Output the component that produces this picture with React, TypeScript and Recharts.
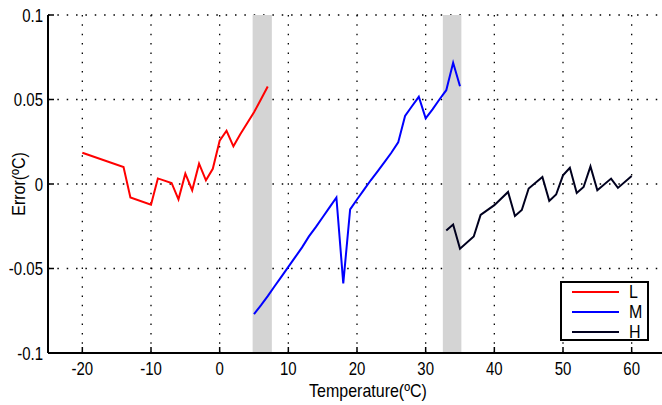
import React from 'react';
import {
  LineChart,
  Line,
  XAxis,
  YAxis,
  CartesianGrid,
  ReferenceArea,
  Legend
} from 'recharts';

const FONT = '"Liberation Sans", Arial, Helvetica, sans-serif';

// series values
const lowTemps = [-20, -14, -13, -10, -9, -7, -6, -5, -4, -3, -2, -1, 0, 1, 2, 3, 4, 5, 6, 7];
const lowErrors = [0.0185, 0.01, -0.008, -0.0123, 0.0033, 0.0006, -0.0091, 0.0061, -0.0037, 0.012,
  0.0022, 0.009, 0.0256, 0.0315, 0.0223, 0.0295, 0.036, 0.0424, 0.05, 0.0577];

const midTemps = [5, 6, 7, 8, 9, 10, 11, 12, 13, 14, 15, 16, 17, 18, 19, 20, 21, 22, 23, 24, 25, 26,
  27, 28, 29, 30, 31, 32, 33, 34, 35];
const midErrors = [-0.077, -0.0718, -0.0663, -0.0605, -0.0548, -0.049, -0.0433, -0.0375, -0.031,
  -0.0255, -0.0197, -0.0138, -0.008, -0.0588, -0.015, -0.0092, -0.0035, 0.0022, 0.0075, 0.0129,
  0.0185, 0.0246, 0.0403, 0.046, 0.0516, 0.0389, 0.0442, 0.05, 0.0555, 0.0717, 0.0578];

const highTemps = [33, 34, 35, 37, 38, 40, 42, 43, 44, 45, 47, 48, 49, 50, 51, 52, 53, 54, 55, 57, 58, 60];
const highErrors = [-0.0275, -0.024, -0.0383, -0.0311, -0.0183, -0.0125, -0.0047, -0.0189, -0.0154,
  -0.0027, 0.0041, -0.01, -0.0062, 0.0051, 0.0096, -0.0053, -0.0018, 0.0104, -0.0037, 0.0032,
  -0.0023, 0.0047];

const seriesNames = ['L', 'M', 'H'];
const seriesColors = ['#ff0000', '#0000ff', '#00001e'];

// shaded transition bands
const bandStarts = [4.8, 32.5];
const bandEnds = [7.6, 35.2];

const xTicks = [-20, -10, 0, 10, 20, 30, 40, 50, 60];
const yTicks = [-0.1, -0.05, 0, 0.05, 0.1];

const toRows = (temps: number[], errors: number[]) =>
  temps.map((t, i) => ({ t, e: errors[i] }));

const seriesData = [
  toRows(lowTemps, lowErrors),
  toRows(midTemps, midErrors),
  toRows(highTemps, highErrors)
];

const TallText = ({ x, y, anchor, size, rotate, children }: any) => (
  <text
    transform={`translate(${x},${y})${rotate ? ` rotate(${rotate})` : ''} scale(1,1.2)`}
    textAnchor={anchor}
    fontSize={size}
    fontFamily={FONT}
    fill="#000"
  >
    {children}
  </text>
);

const BottomTick = ({ x, y, payload }: any) => (
  <g>
    <line x1={x} x2={x} y1={y} y2={y - 6} stroke="#000" strokeWidth={1.5} />
    <TallText x={x} y={y + 22} anchor="middle" size={15}>{payload.value}</TallText>
  </g>
);

const TopTick = ({ x, y }: any) => (
  <line x1={x} x2={x} y1={y} y2={y + 6} stroke="#000" strokeWidth={1.5} />
);

const LeftTick = ({ x, y, payload }: any) => (
  <g>
    <line x1={x} x2={x + 6} y1={y} y2={y} stroke="#000" strokeWidth={1.5} />
    <TallText x={x - 5} y={y + 6.5} anchor="end" size={15}>{payload.value}</TallText>
  </g>
);

const RightTick = ({ x, y }: any) => (
  <line x1={x} x2={x - 6} y1={y} y2={y} stroke="#000" strokeWidth={1.5} />
);

// legend box drawn inside a slightly taller svg so the stretched letters are not clipped
const renderLegend = () => (
  <svg width={91} height={70} style={{ display: 'block', overflow: 'visible' }}>
    <rect x={2} y={7} width={87} height={58} fill="#fff" stroke="#000" strokeWidth={2} />
    {seriesNames.map((name, i) => (
      <g key={name}>
        <line x1={13} x2={60} y1={17 + i * 20} y2={17 + i * 20} stroke={seriesColors[i]} strokeWidth={2} />
        <TallText x={70} y={23 + i * 20} anchor="start" size={16}>{name}</TallText>
      </g>
    ))}
  </svg>
);

export default function App() {
  return (
    <div style={{ position: 'absolute', left: 0, top: 0, width: 662, height: 405, overflow: 'hidden', background: '#fff' }}>
      <LineChart width={666} height={405} margin={{ top: 15, right: 0, bottom: 0, left: 0 }}>
        <CartesianGrid stroke="#000" strokeWidth={1.3} strokeDasharray="1.5 7.85" />
        {bandStarts.map((start, i) => (
          <ReferenceArea
            key={start}
            x1={start}
            x2={bandEnds[i]}
            fill="#d4d4d4"
            fillOpacity={1}
            stroke="none"
            ifOverflow="hidden"
          />
        ))}
        <XAxis
          dataKey="t"
          type="number"
          domain={[-25, 65]}
          ticks={xTicks}
          allowDuplicatedCategory={false}
          height={52}
          tickSize={0}
          tickMargin={0}
          tickLine={false}
          tick={BottomTick}
          axisLine={{ stroke: '#000', strokeWidth: 2 }}
          label={{
            content: ({ viewBox }: any) => (
              <TallText x={viewBox.x + viewBox.width / 2 + 11} y={397} anchor="middle" size={16}>
                Temperature(ºC)
              </TallText>
            )
          }}
        />
        <XAxis
          xAxisId="top"
          orientation="top"
          dataKey="t"
          type="number"
          domain={[-25, 65]}
          ticks={xTicks}
          allowDuplicatedCategory={false}
          height={0}
          tickSize={0}
          tickMargin={0}
          tickLine={false}
          tick={TopTick}
          axisLine={{ stroke: '#000', strokeWidth: 2 }}
        />
        <YAxis
          type="number"
          domain={[-0.1, 0.1]}
          ticks={yTicks}
          width={48}
          tickSize={0}
          tickMargin={0}
          tickLine={false}
          tick={LeftTick}
          axisLine={{ stroke: '#000', strokeWidth: 2 }}
          label={{
            content: ({ viewBox }: any) => (
              <TallText x={25} y={viewBox.y + viewBox.height / 2} anchor="middle" size={16} rotate={-90}>
                Error(ºC)
              </TallText>
            )
          }}
        />
        <YAxis
          yAxisId="right"
          orientation="right"
          type="number"
          domain={[-0.1, 0.1]}
          ticks={yTicks}
          width={0}
          tickSize={0}
          tickMargin={0}
          tickLine={false}
          tick={RightTick}
          axisLine={{ stroke: '#000', strokeWidth: 2 }}
        />
        {seriesData.map((rows, i) => (
          <Line
            key={seriesNames[i]}
            name={seriesNames[i]}
            data={rows}
            dataKey="e"
            type="linear"
            stroke={seriesColors[i]}
            strokeWidth={2}
            dot={false}
            isAnimationActive={false}
          />
        ))}
        <Legend
          layout="vertical"
          align="center"
          verticalAlign="middle"
          content={renderLegend}
          wrapperStyle={{ position: 'absolute', left: 559, top: 275, width: 91, height: 70 }}
        />
      </LineChart>
    </div>
  );
}
